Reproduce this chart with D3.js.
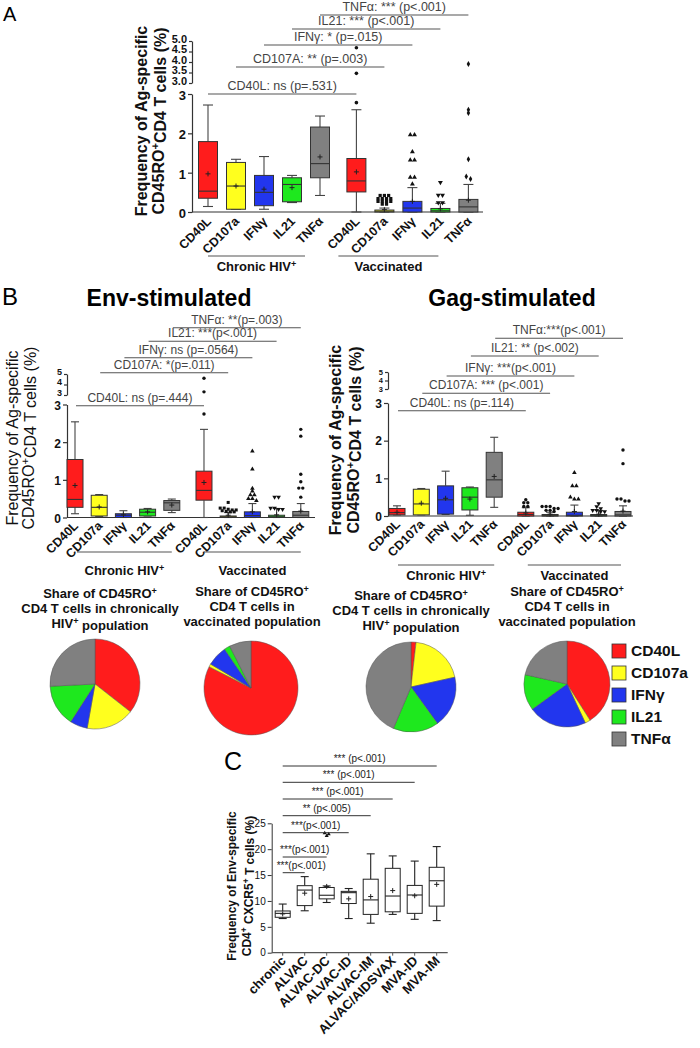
<!DOCTYPE html>
<html><head><meta charset="utf-8">
<script src="https://cdn.jsdelivr.net/npm/d3@7"></script>
<style>
body{margin:0;background:#fff}
svg{display:block}
text{font-family:"Liberation Sans",Arial,sans-serif}
</style>
</head><body>
<svg id="c" width="700" height="1048"></svg>
<script>
// ================= DATA =================
const cytokines = ["CD40L","CD107a","IFNγ","IL21","TNFα"];
const cohorts = ["Chronic HIV","Vaccinated"];
// box stats: [min, q1, median, q3, max, mean]
const aChronic = [[0.14,0.35,0.53,1.79,2.72,0.97],[0.07,0.07,0.66,1.26,1.34,0.66],[0.07,0.16,0.50,0.93,1.41,0.58],[0.24,0.26,0.70,0.87,0.93,0.62],[0.42,0.87,1.23,2.16,2.44,1.40]];
const aVaccinated = [[0,0.51,0.79,1.36,2.60,1.02],[0,0,0.02,0.05,0.10,0.06],[0,0,0.10,0.27,0.62,0.27],[0,0,0.03,0.09,0.22,0.08],[0,0,0.13,0.32,0.70,0.30]];
const aOutliers = [[2.78,3.46,4.68],[0.42,0.42,0.42,0.34,0.34,0.34,0.34,0.27,0.27,0.27,0.27,0.2,0.2],[1.96,1.96,1.53,1.32,1.32,0.88,0.88,0.71],[0.75,0.43,0.43,0.24,0.24],[3.9,2.6,2.52,1.34,0.9,0.84]];
const aBrackets = ["CD40L: ns  (p=.531)","CD107A: ** (p=.003)","IFNγ: * (p=.015)","IL21: *** (p<.001)","TNFα: *** (p<.001)"];

const envChronic = [[0.1,0.27,0.48,1.54,2.54,0.85],[0.03,0.04,0.27,0.59,0.61,0.28],[0,0,0.06,0.1,0.18,0.07],[0.04,0.04,0.14,0.22,0.24,0.15],[0.13,0.19,0.39,0.45,0.49,0.33]];
const envVaccinated = [[0,0.46,0.72,1.23,2.34,0.93],[0,0,0.02,0.04,0.13,0.06],[0,0,0.05,0.15,0.37,0.15],[0,0,0.02,0.06,0.24,0.07],[0,0,0.06,0.16,0.37,0.17]];
const envOutliers = [[2.75,3.3,4.6],[0.4,0.25,0.25,0.22,0.2,0.2,0.18,0.16,0.15,0.15],[1.76,1.28,0.77,0.7,0.6,0.6,0.5,0.5,0.45],[0.54,0.54,0.25,0.25,0.22,0.22],[2.34,2.16,1.15,0.95,0.78,0.78,0.54]];
const envBrackets = ["CD40L: ns (p=.444)","CD107A: *(p=.011)","IFNγ: ns (p=.0564)","IL21: ***(p<.001)","TNFα: **(p=.003)"];

const gagChronic = [[0.03,0.03,0.09,0.2,0.27,0.1],[0.03,0.03,0.32,0.71,0.73,0.34],[0.04,0.05,0.43,0.8,1.19,0.47],[0.02,0.16,0.5,0.75,0.77,0.45],[0.23,0.5,0.96,1.69,2.09,1.05]];
const gagVaccinated = [[0,0,0.04,0.1,0.22,0.08],[0,0,0.01,0.04,0.1,0.05],[0,0,0.02,0.1,0.29,0.12],[0,0,0.01,0.03,0.15,0.05],[0,0,0.03,0.12,0.27,0.13]];
const gagOutliers = [[0.43,0.35,0.35,0.25,0.25],[0.25,0.25,0.25,0.2,0.2,0.15,0.15,0.12],[1.15,0.8,0.8,0.5,0.45,0.45],[0.33,0.25,0.2,0.15,0.15,0.12,0.12],[1.75,1.39,0.45,0.45,0.4,0.4]];
const gagBrackets = ["CD40L: ns  (p=.114)","CD107A: *** (p<.001)","IFNγ: ***(p<.001)","IL21: ** (p<.002)","TNFα:***(p<.001)"];

const pieTitles = [
  [["Share of CD45RO","+"],["CD4 T cells in chronically",""],["HIV","+"," population"]],
  [["Share of CD45RO","+"],["CD4 T cells in",""],["vaccinated population",""]],
  [["Share of CD45RO","+"],["CD4 T cells in chronically",""],["HIV","+"," population"]],
  [["Share of CD45RO","+"],["CD4 T cells in",""],["vaccinated population",""]]
];
const pieEnvChronic = [35.6,17.2,6.3,15.1,25.8];
const pieEnvVaccinated = [82.5,1,7,2,7.5];
const pieGagChronic = [1.8,19.7,18.5,16.4,43.6];
const pieGagVaccinated = [41,2,22,13.5,21.5];

const cGroups = ["chronic","ALVAC","ALVAC-DC","ALVAC-ID","ALVAC-IM","ALVAC/AIDSVAX","MVA-ID","MVA-IM"];
const cStats = [[6.6,6.84,7.6,8.06,9.4,7.5],[8.1,9.1,12.1,12.95,14.7,11.5],[9.7,10.4,11.1,12.6,12.9,12.8],[6.6,9.5,11.6,11.85,12.4,10.4],[5.7,7.4,10.2,14.2,19.1,10.85],[7.4,7.9,10.95,16.3,18.7,12.0],[6.45,7.6,11.15,13.0,17.7,11.0],[6.2,9.0,13.9,16.5,20.5,13.2]];
const cOutliers = [[],[],[23.1,22.6,22.9],[],[],[],[],[]];
const cBrackets = ["***(p<.001)","***(p<.001)","***(p<.001)","** (p<.005)","*** (p<.001)","*** (p<.001)","*** (p<.001)"];
const cTicks = [0,5,10,15,20,25];

// ================= STYLE / LAYOUT =================
const fills = ["#ff1c1c","#ffff1e","#2236ee","#1ee81e","#808080"];
const svg = d3.select("#c");
svg.append("rect").attr("width",700).attr("height",1048).attr("fill","#fff");

function rich(sel, parts, supScale){
  parts.forEach((p,i)=>{
    if(!p) return;
    const sup = i%2===1;
    const t = sel.append("tspan").text(p);
    if(sup){ t.attr("dy","-0.45em").attr("font-size", (supScale||0.7)+"em"); }
    else if(i>0 && parts[i-1]){ t.attr("dy","0.45em"); }
  });
}

function yBroken(lo, up){
  const l = d3.scaleLinear().domain([0,3]).range(lo);
  const u = d3.scaleLinear().domain([3,5]).range(up);
  const f = v => v<=3 ? l(v) : u(v);
  f.lo=l; f.up=u; return f;
}

function symbolPath(kind, size){
  const m = {circle:d3.symbolCircle,square:d3.symbolSquare,tri:d3.symbolTriangle,tri2:d3.symbolTriangle,diamond:d3.symbolDiamond};
  return d3.symbol().type(m[kind]).size(size)();
}

function swarm(vals, y, d){
  const sorted = vals.slice().sort((a,b)=>b-a);
  const out=[]; let i=0;
  while(i<sorted.length){
    const start=y(sorted[i]); const cl=[sorted[i]]; let j=i+1;
    while(j<sorted.length && Math.abs(y(sorted[j])-start)<d*0.6){cl.push(sorted[j]); j++;}
    cl.forEach((v,k)=>out.push({v, off:(k-(cl.length-1)/2)*d}));
    i=j;
  }
  return out;
}

function drawBox(g, s, cx, y, w, capW, fill, stroke, whisk){
  const [mn,q1,md,q3,mx,mean]=s;
  g.append("line").attr("x1",cx).attr("x2",cx).attr("y1",y(mx)).attr("y2",y(q3)).attr("stroke",whisk).attr("stroke-width",1.1);
  g.append("line").attr("x1",cx).attr("x2",cx).attr("y1",y(q1)).attr("y2",y(mn)).attr("stroke",whisk).attr("stroke-width",1.1);
  g.append("line").attr("x1",cx-capW/2).attr("x2",cx+capW/2).attr("y1",y(mx)).attr("y2",y(mx)).attr("stroke",whisk).attr("stroke-width",1.1);
  g.append("line").attr("x1",cx-capW/2).attr("x2",cx+capW/2).attr("y1",y(mn)).attr("y2",y(mn)).attr("stroke",whisk).attr("stroke-width",1.1);
  const top=y(q3), bot=y(q1);
  g.append("rect").attr("x",cx-w/2).attr("y",Math.min(top,bot-1.5)).attr("width",w).attr("height",Math.max(bot-top,1.5))
    .attr("fill",fill).attr("stroke",stroke).attr("stroke-width",1);
  g.append("line").attr("x1",cx-w/2).attr("x2",cx+w/2).attr("y1",y(md)).attr("y2",y(md)).attr("stroke",stroke).attr("stroke-width",1.1);
  const my=y(mean);
  g.append("path").attr("d",`M${cx-2.5},${my}H${cx+2.5}M${cx},${my-2.5}V${my+2.5}`).attr("stroke","#222").attr("stroke-width",1);
}

function boxPanel(cfg){
  const g = svg.append("g");
  const nTot = 8 + cfg.gap;
  const x = d3.scaleLinear().domain([0,nTot]).range([cfg.x0, cfg.x0 + nTot*cfg.step]);
  const idx = (gi,i)=> i + gi*(4+cfg.gap);
  const y = yBroken(cfg.yLo, cfg.yUp);
  const axLo = g.append("g").attr("transform",`translate(${cfg.axisX},0)`)
    .call(d3.axisLeft(y.lo).tickValues([0,1,2,3]).tickFormat(d3.format("d")).tickSize(4).tickSizeOuter(0).tickPadding(2));
  const axUp = g.append("g").attr("transform",`translate(${cfg.axisX},0)`)
    .call(d3.axisLeft(y.up).tickValues(cfg.upTicks).tickFormat(d3.format(cfg.upFmt)).tickSize(3).tickSizeOuter(0).tickPadding(2));
  [axLo,axUp].forEach(a=>{a.selectAll("path,line").attr("stroke","#333").attr("stroke-width",1.2);
    a.selectAll("text").attr("font-family","Liberation Sans, Arial").attr("font-weight","bold").attr("fill","#111");});
  axLo.selectAll("text").attr("font-size",cfg.tickFont).attr("dy",cfg.loDy);
  axUp.selectAll("text").attr("font-size",cfg.upFont).attr("dy",cfg.upDy);
  g.append("line").attr("x1",cfg.axisX).attr("x2",cfg.xEnd).attr("y1",y(0)).attr("y2",y(0)).attr("stroke","#333").attr("stroke-width",1.2);
  [cfg.chronic, cfg.vacc].forEach((stats,gi)=>stats.forEach((s,i)=>{
    drawBox(g, s, x(idx(gi,i)), y, cfg.boxW, cfg.capW, fills[i], "#333", "#444");
  }));
  cfg.outliers.forEach((vals,i)=>{
    const cx = x(idx(1,i));
    swarm(vals,y,cfg.mk*1.25).forEach(o=>{
      g.append("path").attr("d",symbolPath(cfg.symbols[i],cfg.mk*cfg.mk*0.9))
        .attr("transform",`translate(${cx+o.off},${y(o.v)})`+(cfg.symbols[i]==="tri2"?" rotate(180)":""))
        .attr("fill","#111");
    });
  });
  cfg.brackets.forEach((lab,i)=>{
    const x1=x(idx(0,i))+cfg.brOff[0], x2=x(idx(1,i))+cfg.brOff[1], ly=cfg.brY[i];
    g.append("line").attr("x1",x1).attr("x2",x2).attr("y1",ly).attr("y2",ly).attr("stroke","#555").attr("stroke-width",1.1);
    g.append("text").attr("x",(x1+x2)/2).attr("y",ly-4).attr("text-anchor","middle").attr("font-size",cfg.brFont).attr("fill","#444").text(lab);
  });
  [0,1].forEach(gi=>cytokines.forEach((c,i)=>{
    const cx=x(idx(gi,i));
    g.append("text").attr("transform",`translate(${cx+cfg.xlDx},${y(0)+cfg.xlDy}) rotate(-45)`)
      .attr("text-anchor","end").attr("font-size",cfg.xlFont).attr("font-weight","bold").attr("fill","#111").text(c);
  }));
  cohorts.forEach((c,gi)=>{
    const x1=x(idx(gi,0))+cfg.grpOff[gi][0], x2=x(idx(gi,4))+cfg.grpOff[gi][1];
    g.append("line").attr("x1",x1).attr("x2",x2).attr("y1",cfg.grpY).attr("y2",cfg.grpY).attr("stroke","#555").attr("stroke-width",1.1);
    const t=g.append("text").attr("x",(x1+x2)/2+cfg.grpTx[gi]).attr("y",cfg.grpY+cfg.grpDy).attr("text-anchor","middle")
      .attr("font-size",cfg.grpFont).attr("font-weight",cfg.grpWeight).attr("fill","#111");
    if(gi===0) rich(t,["Chronic HIV","+"]); else t.text(c);
  });
  const yl = g.append("g").attr("transform",`translate(${cfg.ylX},${cfg.ylY}) rotate(-90)`);
  yl.append("text").attr("x",0).attr("y",0).attr("text-anchor","middle").attr("font-size",cfg.ylFont).attr("font-weight",cfg.ylWeight).attr("fill","#111").text("Frequency of Ag-specific");
  const t2 = yl.append("text").attr("x",0).attr("y",cfg.ylGap).attr("text-anchor","middle").attr("font-size",cfg.ylFont).attr("font-weight",cfg.ylWeight).attr("fill","#111");
  rich(t2,["CD45RO","+","CD4 T cells (%)"]);
}

// ---- Panel A ----
svg.append("text").attr("x",3).attr("y",21).attr("font-size",20).text("A");
boxPanel({chronic:aChronic, vacc:aVaccinated, outliers:aOutliers, brackets:aBrackets,
  axisX:192, x0:208, step:28, gap:1.3, yLo:[212,94], yUp:[83,41], xEnd:483, boxW:19, capW:10,
  upTicks:[3,3.5,4,4.5,5], upFmt:".1f", tickFont:13, upFont:11, loDy:"0.42em", upDy:"0.1em", mk:3.4, symbols:["circle","square","tri","tri2","diamond"],
  brY:[94,67,45,29,15], brOff:[0,0], brFont:12.5,
  xlDx:4, xlDy:10, xlFont:12.5,
  grpY:256, grpDy:15, grpOff:[[0,-15],[-18,-30]], grpTx:[0,0], grpFont:13, grpWeight:"bold",
  ylX:147, ylY:121, ylGap:17, ylFont:16, ylWeight:"bold"});

// ---- Panel B ----
svg.append("text").attr("x",2).attr("y",305).attr("font-size",24).text("B");
svg.append("text").attr("x",169).attr("y",306).attr("text-anchor","middle").attr("font-size",23).attr("font-weight","bold").text("Env-stimulated");
svg.append("text").attr("x",512).attr("y",306).attr("text-anchor","middle").attr("font-size",23).attr("font-weight","bold").text("Gag-stimulated");

boxPanel({chronic:envChronic, vacc:envVaccinated, outliers:envOutliers, brackets:envBrackets,
  axisX:67, x0:75, step:24.2, gap:1.33, yLo:[517.5,404.5], yUp:[395,374], xEnd:315, boxW:16, capW:8,
  upTicks:[3,4,5], upFmt:"d", tickFont:12, upFont:9, loDy:"0.42em", upDy:"0.0em", mk:3.2, symbols:["circle","square","tri","tri2","circle"],
  brY:[405.7,372.7,357.7,341.3,327.7], brOff:[1,0], brFont:12,
  xlDx:4, xlDy:9, xlFont:12.5,
  grpY:552, grpDy:23, grpOff:[[2,0],[0,0]], grpTx:[0,0], grpFont:13, grpWeight:"600",
  ylX:18, ylY:438, ylGap:16, ylFont:16, ylWeight:"normal"});

boxPanel({chronic:gagChronic, vacc:gagVaccinated, outliers:gagOutliers, brackets:gagBrackets,
  axisX:388, x0:397, step:24.3, gap:1.3, yLo:[516,403], yUp:[389,372], xEnd:633, boxW:16, capW:8,
  upTicks:[3,4,5], upFmt:"d", tickFont:12, upFont:7.5, loDy:"0.36em", upDy:"0.3em", mk:3.2, symbols:["circle","circle","tri","tri2","circle"],
  brY:[410.7,393.3,376,356,338.3], brOff:[1,0], brFont:12,
  xlDx:4, xlDy:9, xlFont:12.5,
  grpY:565, grpDy:15, grpOff:[[1,0],[2,-2]], grpTx:[0,0], grpFont:13, grpWeight:"bold",
  ylX:341, ylY:440, ylGap:18, ylFont:16, ylWeight:"bold"});

// ---- Pies ----
const pieData = [pieEnvChronic, pieEnvVaccinated, pieGagChronic, pieGagVaccinated];
const pieCenters = [[95,684,45],[251,688,47],[411,687,45],[567,684,43]];
const pieTitleX = [100,252,411,567];
const pieTitleY = [598,596,600,596];
pieData.forEach((vals,k)=>{
  const [cx,cy,r]=pieCenters[k];
  const arcs = d3.pie().sort(null).value(d=>d)(vals);
  const arc = d3.arc().innerRadius(0).outerRadius(r);
  svg.append("g").attr("transform",`translate(${cx},${cy})`).selectAll("path").data(arcs).join("path")
    .attr("d",arc).attr("fill",(d,i)=>fills[i]).attr("stroke","#555").attr("stroke-width",0.5);
  pieTitles[k].forEach((line,li)=>{
    const t = svg.append("text").attr("x",pieTitleX[k]).attr("y",pieTitleY[k]+li*15).attr("text-anchor","middle")
      .attr("font-family","Liberation Sans Narrow, Liberation Sans, Arial").attr("font-size",13).attr("font-weight","bold").attr("fill","#111");
    rich(t,line);
  });
});
const leg = svg.append("g");
cytokines.forEach((c,i)=>{
  leg.append("rect").attr("x",612).attr("y",644+i*22).attr("width",14).attr("height",14).attr("fill",fills[i]).attr("stroke","#333").attr("stroke-width",0.8);
  leg.append("text").attr("x",631).attr("y",656+i*22).attr("font-size",15.5).attr("font-weight","bold")
    .attr("font-family","Liberation Sans Narrow, Liberation Sans, Arial").attr("fill","#111").text(c);
});

// ---- Panel C ----
svg.append("text").attr("x",224).attr("y",770).attr("font-size",25).text("C");
(function(){
  const g = svg.append("g");
  const x = d3.scaleLinear().domain([0,cGroups.length-1]).range([282.7,436.7]);
  const y = d3.scaleLinear().domain([0,25]).range([952.7,823.3]);
  const ax = g.append("g").attr("transform","translate(271.7,0)")
    .call(d3.axisLeft(y).tickValues(cTicks).tickSize(4).tickSizeOuter(0).tickPadding(2));
  ax.selectAll("path,line").attr("stroke","#333");
  ax.selectAll("text").attr("font-size",10).attr("font-family","Liberation Sans, Arial").attr("fill","#111");
  g.append("line").attr("x1",271.7).attr("x2",447.7).attr("y1",y(0)).attr("y2",y(0)).attr("stroke","#555").attr("stroke-width",1.3);
  cGroups.forEach((c,i)=>{
    g.append("line").attr("x1",x(i)).attr("x2",x(i)).attr("y1",y(0)).attr("y2",y(0)+3).attr("stroke","#555");
    drawBox(g,cStats[i],x(i),y,15,8,"#fff","#222","#222");
    swarm(cOutliers[i],y,4).forEach(o=>{
      g.append("path").attr("d",symbolPath("tri",7)).attr("transform",`translate(${x(i)+o.off},${y(o.v)})`).attr("fill","#111");
    });
    g.append("text").attr("transform",`translate(${x(i)+4},${y(0)+9}) rotate(-45)`).attr("text-anchor","end")
      .attr("font-size",13).attr("font-weight","bold").attr("fill","#111").text(c);
  });
  const brY=[872.7,857,832.7,815.7,799,782.3,766];
  cBrackets.forEach((lab,i)=>{
    const x1=x(0), x2=x(i+1);
    g.append("line").attr("x1",x1).attr("x2",x2).attr("y1",brY[i]).attr("y2",brY[i]).attr("stroke","#333").attr("stroke-width",1);
    const t=g.append("text").attr("y",brY[i]-4).attr("font-size",10).attr("fill","#222").text(lab);
    const w=t.node().getComputedTextLength();
    t.attr("x",Math.max((x1+x2)/2-w/2, x1-6));
  });
  const yl=g.append("g").attr("transform","translate(236,886) rotate(-90)");
  yl.append("text").attr("text-anchor","middle").attr("font-size",12).attr("font-weight","bold").attr("fill","#111").text("Frequency of Env-specific");
  const t2=yl.append("text").attr("y",15).attr("text-anchor","middle").attr("font-size",12).attr("font-weight","bold").attr("fill","#111");
  rich(t2,["CD4","+"," CXCR5","+"," T cells (%)"]);
})();
</script>
</body></html>
